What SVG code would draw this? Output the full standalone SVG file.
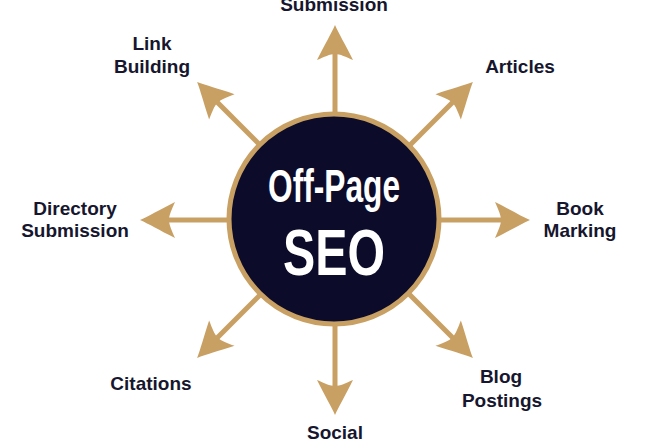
<svg xmlns="http://www.w3.org/2000/svg" xmlns:xlink="http://www.w3.org/1999/xlink" width="660" height="440" viewBox="0 0 660 440">
  <style>
    .lbl { font-family: "Liberation Sans", Arial, sans-serif; font-weight: bold; font-size: 19px; fill: #16162e; text-anchor: middle; }
    .hub { font-family: "Liberation Sans", Arial, sans-serif; font-weight: bold; fill: #ffffff; text-anchor: middle; }
    .shaft { stroke: #C9A063; stroke-width: 5; fill: none; }
    .head { fill: #C9A063; }
  </style>
  <defs>
    <g id="arrow">
      <line class="shaft" x1="104" y1="0" x2="170" y2="0"/>
      <path class="head" d="M195 0 C186 4 176 10 160 18 C163 11 166 5 166 0 C166 -5 163 -11 160 -18 C176 -10 186 -4 195 0 Z"/>
    </g>
  </defs>
  <rect width="660" height="440" fill="#ffffff"/>
  <g id="connectors">
    <use xlink:href="#arrow" transform="translate(335 220) rotate(0)"/>
    <use xlink:href="#arrow" transform="translate(335 220) rotate(-45)"/>
    <use xlink:href="#arrow" transform="translate(335 220) rotate(-90)"/>
    <use xlink:href="#arrow" transform="translate(335 220) rotate(-135)"/>
    <use xlink:href="#arrow" transform="translate(335 220) rotate(180)"/>
    <use xlink:href="#arrow" transform="translate(335 220) rotate(135)"/>
    <use xlink:href="#arrow" transform="translate(335 220) rotate(90)"/>
    <use xlink:href="#arrow" transform="translate(335 220) rotate(45)"/>
  </g>
  <g id="hub">
    <circle cx="334" cy="219" r="105" fill="#0c0c2a" stroke="#C9A063" stroke-width="5"/>
    <text class="hub" x="334" y="202" font-size="47" textLength="132" lengthAdjust="spacingAndGlyphs">Off-Page</text>
    <text class="hub" x="334" y="275" font-size="65" textLength="102" lengthAdjust="spacingAndGlyphs">SEO</text>
  </g>
  <g id="node-submission-top"><text class="lbl" x="334" y="11">Submission</text></g>
  <g id="node-link-building"><text class="lbl" x="152" y="50">Link</text><text class="lbl" x="152" y="73">Building</text></g>
  <g id="node-articles"><text class="lbl" x="520" y="73">Articles</text></g>
  <g id="node-directory"><text class="lbl" x="75" y="215">Directory</text><text class="lbl" x="75" y="237">Submission</text></g>
  <g id="node-bookmarking"><text class="lbl" x="580" y="215">Book</text><text class="lbl" x="580" y="237">Marking</text></g>
  <g id="node-citations"><text class="lbl" x="151" y="390">Citations</text></g>
  <g id="node-social"><text class="lbl" x="335" y="439">Social</text></g>
  <g id="node-blog"><text class="lbl" x="501" y="383">Blog</text><text class="lbl" x="502" y="407">Postings</text></g>
</svg>
